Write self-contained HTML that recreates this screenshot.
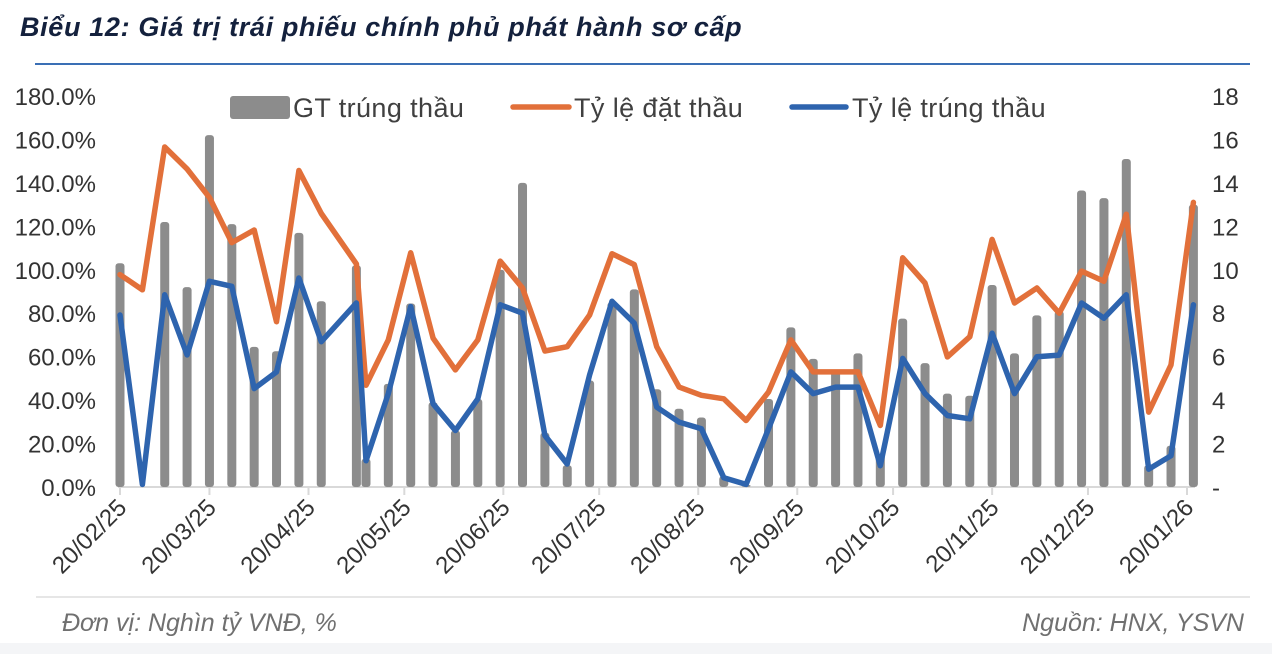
<!DOCTYPE html>
<html><head><meta charset="utf-8">
<style>
html,body{margin:0;padding:0;background:#fff;}
body{width:1272px;height:654px;overflow:hidden;position:relative;font-family:"Liberation Sans","DejaVu Sans",sans-serif;}
#title{position:absolute;left:20px;top:12px;font-size:27px;font-weight:bold;font-style:italic;color:#14213d;letter-spacing:0.65px;}
#rule{position:absolute;left:35px;top:63px;width:1215px;height:2px;background:#3a6fb5;}
.foot{position:absolute;top:609px;font-size:25px;font-style:italic;color:#707070;}
#band{position:absolute;left:0;top:643px;width:1272px;height:11px;background:#f4f5f7;}
</style></head>
<body>
<div id="title">Biểu 12: Giá trị trái phiếu chính phủ phát hành sơ cấp</div>
<div id="rule"></div>
<svg id="chart" width="1272" height="654" style="position:absolute;left:0;top:0"></svg>
<div class="foot" style="left:62px">Đơn vị: Nghìn tỷ VNĐ, %</div>
<div class="foot" style="right:28px">Nguồn: HNX, YSVN</div>
<div id="band"></div>
<script>
const dates=["2025-02-20","2025-02-27","2025-03-06","2025-03-13","2025-03-20","2025-03-27","2025-04-03","2025-04-10","2025-04-17","2025-04-24","2025-05-05","2025-05-08","2025-05-15","2025-05-22","2025-05-29","2025-06-05","2025-06-12","2025-06-19","2025-06-26","2025-07-03","2025-07-10","2025-07-17","2025-07-24","2025-07-31","2025-08-07","2025-08-14","2025-08-21","2025-08-28","2025-09-04","2025-09-11","2025-09-18","2025-09-25","2025-10-02","2025-10-09","2025-10-16","2025-10-23","2025-10-30","2025-11-06","2025-11-13","2025-11-20","2025-11-27","2025-12-04","2025-12-11","2025-12-18","2025-12-25","2026-01-01","2026-01-08","2026-01-15","2026-01-22"];
const gtTrungThau=[10.3,0,12.2,9.2,16.2,12.1,6.45,6.25,11.7,8.55,10.2,1.3,4.75,8.45,3.9,2.6,4.05,10.0,14.0,2.5,1.0,4.9,8.5,9.1,4.5,3.6,3.2,0.5,0.1,4.05,7.35,5.9,5.3,6.15,1.5,7.75,5.7,4.3,4.2,9.3,6.15,7.9,8.1,13.65,13.3,15.1,1.0,1.9,13.0];
const tyLeDatThau=[97.8,90.8,156.5,146.4,133.3,112.5,118.3,76.1,145.7,125.9,102.7,46.8,67.7,107.8,68.5,53.9,67.7,104,91.6,62.6,64.6,79.2,107.4,102.4,64.6,46,42.2,40.6,30.6,43.7,67.7,53,53,53,28.3,105.5,93.9,59.9,69.2,114,84.7,91.6,80,99.4,94.7,125.6,34.5,56.2,131];
const tyLeTrungThau=[79.2,1.2,88.5,60.8,94.7,92.4,45.3,53,96.2,66.9,84.7,12.1,43,83.1,38.3,26,40.6,83.9,80,23.7,10.6,51.6,85.5,75.4,36.8,29.9,26.8,4.3,1.2,26.8,53,43,46,46,9.8,59.2,43,32.9,31.4,70.8,43,60,60.7,84.7,77.7,88.5,8.2,14.4,83.9];
const leftTicks=["0.0%","20.0%","40.0%","60.0%","80.0%","100.0%","120.0%","140.0%","160.0%","180.0%"];
const rightTicks=["-","2","4","6","8","10","12","14","16","18"];
const xTickDates=["2025-02-20","2025-03-20","2025-04-20","2025-05-20","2025-06-20","2025-07-20","2025-08-20","2025-09-20","2025-10-20","2025-11-20","2025-12-20","2026-01-20"];

const NS="http://www.w3.org/2000/svg";
const svg=document.getElementById('chart');
const X0=120,X1=1187,Y0=487,Y1=96;
const t0=Date.parse("2025-02-20"),t1=Date.parse("2026-01-20");
function xs(d){return X0+(Date.parse(d)-t0)/(t1-t0)*(X1-X0);}
function yl(p){return Y0-p/180*(Y0-Y1);}
function yr(v){return Y0-v/18*(Y0-Y1);}
function mk(tag,attrs,parent){const e=document.createElementNS(NS,tag);for(const k in attrs)e.setAttribute(k,attrs[k]);(parent||svg).appendChild(e);return e;}

let ax=mk('line',{x1:118,x2:1195,y1:Y0,y2:Y0,stroke:'#d9d9d9','stroke-width':2});


leftTicks.forEach((t,i)=>{
  const e=mk('text',{x:96,y:yl(i*20)+9,'text-anchor':'end','font-size':24,fill:'#333'});
  e.textContent=t;
  
  
});
rightTicks.forEach((t,i)=>{
  const e=mk('text',{x:1212,y:yr(i*2)+9,'text-anchor':'start','font-size':24,fill:'#333'});
  e.textContent=t;
  
  
});
xTickDates.forEach(d=>{
  const x=xs(d);
  const tk=mk('line',{x1:x,x2:x,y1:Y0,y2:Y0+8,stroke:'#d9d9d9','stroke-width':2});
  
  
  const p=d.split('-');
  const e=mk('text',{x:x+8,y:Y0+22,'text-anchor':'end','font-size':24,fill:'#333',transform:`rotate(-45 ${x+8} ${Y0+22})`});
  e.textContent=p[2]+'/'+p[1]+'/'+p[0].slice(2);
  
  
});
dates.forEach((d,i)=>{
  const v=gtTrungThau[i];if(v<=0)return;
  const x=xs(d),y=yr(v);
  const b=mk('rect',{x:x-4.5,y:y,width:9,height:Y0-y,rx:3,fill:'#8c8c8c'});
  
  
});
function line(arr,color,name){
  const pts=dates.map((d,i)=>xs(d).toFixed(1)+','+yl(arr[i]).toFixed(1)).join(' ');
  const l=mk('polyline',{points:pts,fill:'none',stroke:color,'stroke-width':5.5,'stroke-linejoin':'round','stroke-linecap':'round'});
  
  
}
line(tyLeDatThau,'#e2703a','line-ty-le-dat-thau');
line(tyLeTrungThau,'#2e64ae','line-ty-le-trung-thau');
const lg=mk('g',{});


let r=mk('rect',{x:230,y:96,width:60,height:23,rx:3,fill:'#8c8c8c'},lg);


let t=mk('text',{x:293,y:117,'font-size':27,fill:'#404040','letter-spacing':0.4},lg);t.textContent='GT trúng thầu';


let l1=mk('line',{x1:513,x2:569,y1:107,y2:107,stroke:'#e2703a','stroke-width':5.5,'stroke-linecap':'round'},lg);


t=mk('text',{x:574,y:117,'font-size':27,fill:'#404040','letter-spacing':0.4},lg);t.textContent='Tỷ lệ đặt thầu';


let l2=mk('line',{x1:792,x2:846,y1:107,y2:107,stroke:'#2e64ae','stroke-width':5.5,'stroke-linecap':'round'},lg);


t=mk('text',{x:852,y:117,'font-size':27,fill:'#404040','letter-spacing':0.4},lg);t.textContent='Tỷ lệ trúng thầu';


let sep=mk('line',{x1:36,x2:1250,y1:597,y2:597,stroke:'#e6e6e6','stroke-width':2});


</script>
</body></html>
